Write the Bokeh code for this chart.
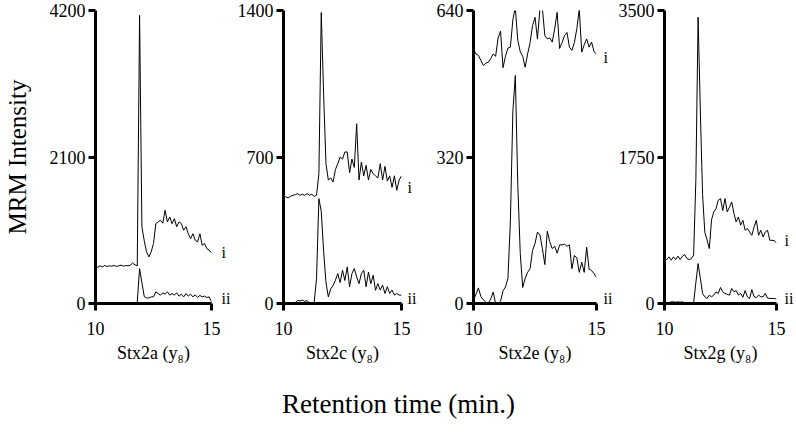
from bokeh.plotting import figure
from bokeh.models import Range1d, FixedTicker, LinearAxis
from bokeh.layouts import row, column
from bokeh.embed import file_html
from bokeh.resources import INLINE

FONT = "Liberation Serif"

# retention time grid (min)
rt = [10.0, 10.1, 10.2, 10.3, 10.4, 10.5, 10.6, 10.7, 10.8, 10.9,
      11.0, 11.1, 11.2, 11.3, 11.4, 11.5, 11.6, 11.7, 11.8, 11.9,
      12.0, 12.1, 12.2, 12.3, 12.4, 12.5, 12.6, 12.7, 12.8, 12.9,
      13.0, 13.1, 13.2, 13.3, 13.4, 13.5, 13.6, 13.7, 13.8, 13.9,
      14.0, 14.1, 14.2, 14.3, 14.4, 14.5, 14.6, 14.7, 14.8, 14.9, 15.0]

panel_names = ["Stx2a (y\u2088)", "Stx2c (y\u2088)", "Stx2e (y\u2088)", "Stx2g (y\u2088)"]
y_max = [4200, 1400, 640, 3500]
y_ticks = [[0, 2100, 4200], [0, 700, 1400], [0, 320, 640], [0, 1750, 3500]]

stx2a_i = [530, 520, 540, 525, 545, 530, 540, 535, 545, 530,
           540, 550, 535, 545, 540, 550, 580, 555, 540, 4130,
           1100, 900, 740, 668, 740, 860, 1145, 1170, 1193, 1150,
           1336, 1170, 1240, 1145, 1217, 1100, 1170, 1145, 1050, 1100,
           1000, 930, 1000, 907, 883, 1000, 835, 860, 787, 764, 725]
stx2a_ii = [0, 0, 0, 0, 0, 0, 0, 0, 0, 0,
            0, 0, 0, 0, 0, 0, 0, 0, 20, 500,
            300, 100, 80, 80, 95, 95, 167, 143, 120, 153,
            134, 167, 120, 143, 120, 153, 105, 134, 95, 143,
            105, 134, 95, 124, 86, 115, 95, 105, 86, 95, 24]

stx2c_i = [517, 509, 505, 512, 517, 520, 525, 517, 522, 517,
           525, 517, 522, 512, 517, 620, 1390, 1000, 668, 590,
           600, 580, 640, 668, 700, 690, 724, 724, 625, 690,
           650, 859, 590, 676, 610, 660, 590, 640, 620, 610,
           600, 668, 590, 655, 585, 610, 555, 610, 541, 590, 610]
stx2c_ii = [5, 5, 5, 3, 5, 5, 15, 12, 16, 10,
            14, 2, 3, 5, 120, 501, 440, 250, 100, 32,
            70, 85, 111, 143, 100, 159, 110, 175, 80, 143,
            167, 127, 95, 143, 159, 80, 150, 95, 135, 63,
            95, 64, 88, 48, 80, 48, 64, 40, 48, 40, 40]

stx2e_i = [556, 545, 542, 531, 520, 525, 527, 535, 545, 540,
           580, 595, 515, 540, 558, 560, 620, 647, 575, 550,
           540, 516, 545, 570, 607, 625, 578, 643, 645, 585,
           578, 580, 571, 600, 636, 557, 570, 585, 592, 560,
           553, 570, 600, 643, 549, 565, 578, 560, 571, 550, 545]
stx2e_ii = [7, 20, 34, 15, 8, 3, 0, 10, 25, 0,
            0, 5, 28, 36, 55, 180, 420, 498, 260, 110,
            35, 55, 68, 76, 116, 131, 156, 150, 120, 85,
            158, 135, 120, 125, 110, 128, 128, 130, 125, 128,
            76, 105, 100, 68, 90, 68, 123, 75, 72, 65, 57]

stx2g_i = [537, 525, 557, 517, 557, 525, 565, 525, 565, 585,
           537, 525, 537, 577, 1480, 3420, 2300, 1300, 850, 760,
           656, 1000, 1094, 1133, 1233, 1253, 1110, 1253, 1094, 1150,
           1213, 1074, 975, 1034, 935, 994, 875, 895, 855, 815,
           915, 994, 815, 875, 795, 855, 875, 755, 755, 750, 724]
stx2g_ii = [5, 5, 5, 20, 20, 15, 20, 15, 20, 5,
            5, 5, 5, 10, 250, 477, 300, 120, 80, 60,
            100, 80, 100, 139, 120, 191, 140, 120, 110, 100,
            179, 140, 155, 100, 120, 75, 155, 80, 60, 165,
            80, 70, 100, 80, 80, 120, 65, 60, 60, 60, 55]

series_i = [stx2a_i, stx2c_i, stx2e_i, stx2g_i]
series_ii = [stx2a_ii, stx2c_ii, stx2e_ii, stx2g_ii]
trace_names = ["i", "ii"]
label_i_y = [731, 554, 537, 752]
label_ii_y = [72, 24, 11, 60]

# layout (pixels)
frame_w = [118, 118, 126, 115]
border_l = [95, 50, 52, 46]
border_r = [20, 20, 16, 20]
label_dx = [10, 6, 7, 8]
BORDER_T = 10
FRAME_H = 293
BORDER_B = 65

figs = []
for k in range(4):
    p = figure(width=border_l[k] + frame_w[k] + border_r[k],
               height=BORDER_T + FRAME_H + BORDER_B,
               x_range=Range1d(10, 15), y_range=Range1d(0, y_max[k]),
               min_border_left=border_l[k], min_border_right=border_r[k],
               min_border_top=BORDER_T, min_border_bottom=BORDER_B,
               toolbar_location=None, output_backend="svg",
               outline_line_color=None, background_fill_color="white")
    p.grid.visible = False
    p.line(rt, series_i[k], line_color="black", line_width=1)
    p.line(rt, series_ii[k], line_color="black", line_width=1)

    p.xaxis.ticker = FixedTicker(ticks=[10, 15])
    p.yaxis.ticker = FixedTicker(ticks=y_ticks[k])
    p.axis.axis_line_width = 3
    p.axis.axis_line_color = "black"
    p.axis.major_tick_line_width = 3
    p.axis.major_tick_out = 7
    p.axis.major_tick_in = 0
    p.axis.minor_tick_line_color = None
    p.axis.major_label_text_font = FONT
    p.axis.major_label_text_font_size = "18px"
    p.axis.major_label_text_color = "black"
    p.xaxis.major_label_standoff = 11
    p.yaxis.major_label_standoff = 3
    p.xaxis.axis_label = panel_names[k]
    p.xaxis.axis_label_text_font = FONT
    p.xaxis.axis_label_text_font_size = "18px"
    p.xaxis.axis_label_text_font_style = "normal"
    p.xaxis.axis_label_text_color = "black"
    p.xaxis.axis_label_standoff = 5
    if k == 0:
        p.yaxis.axis_label = "MRM Intensity"
        p.yaxis.axis_label_text_font = FONT
        p.yaxis.axis_label_text_font_size = "25px"
        p.yaxis.axis_label_text_font_style = "normal"
        p.yaxis.axis_label_text_color = "black"
        p.yaxis.axis_label_standoff = 16

    # trace labels "i" / "ii" at the right end of each panel
    lab = LinearAxis(ticker=FixedTicker(ticks=[label_ii_y[k], label_i_y[k]]),
                     major_label_overrides={label_i_y[k]: trace_names[0],
                                            label_ii_y[k]: trace_names[1]},
                     axis_line_color=None, major_tick_line_color=None,
                     minor_tick_line_color=None, major_tick_out=0, major_tick_in=0,
                     major_label_standoff=label_dx[k],
                     major_label_text_font=FONT, major_label_text_font_size="16px",
                     major_label_text_color="black")
    p.add_layout(lab, "right")
    figs.append(p)

total_w = sum(border_l) + sum(frame_w) + sum(border_r)
tf = figure(width=total_w, height=55, toolbar_location=None, output_backend="svg",
            min_border=0, outline_line_color=None, title_location="below",
            x_range=Range1d(0, 1), y_range=Range1d(0, 1))
tf.axis.visible = False
tf.grid.visible = False
tf.title.text = "Retention time (min.)"
tf.title.align = "center"
tf.title.text_font = FONT
tf.title.text_font_size = "27px"
tf.title.text_font_style = "normal"
tf.title.text_color = "black"

layout = column(row(*figs), tf)
open("out.html", "w").write(file_html(layout, INLINE))
